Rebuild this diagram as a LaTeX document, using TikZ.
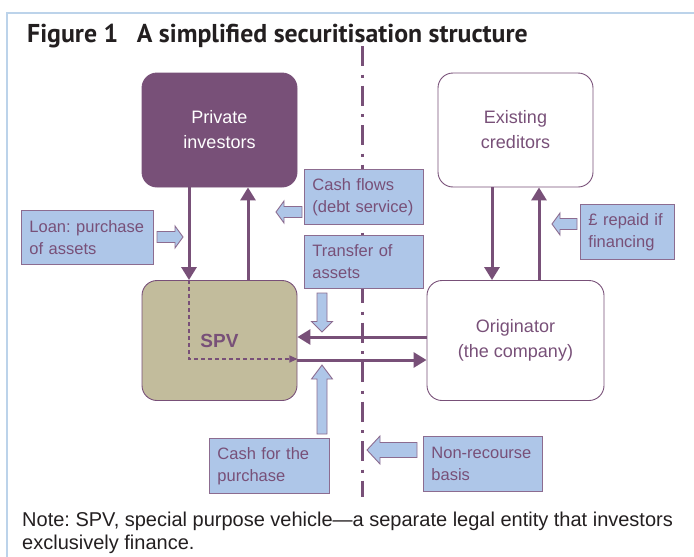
\documentclass[tikz,border=0pt]{standalone}
\usepackage{fontspec}
\setmainfont{Liberation Sans}
\newfontfamily\titlefont{PT Sans}
\usepackage{tikz}
\usetikzlibrary{positioning}
\usetikzlibrary{arrows.meta}

\definecolor{plum}{HTML}{785078}
\definecolor{spvfill}{HTML}{C2BC9C}
\definecolor{tagfill}{HTML}{AEC6E8}
\definecolor{tagline}{HTML}{8C6C90}
\definecolor{framecol}{HTML}{BCD3EA}
\definecolor{inkcol}{HTML}{231F20}
\frenchspacing

\begin{document}
\begin{tikzpicture}[x=1pt, y=-1pt,
    party/.style={draw=plum, line width=0.9pt, rounded corners=15pt, text=plum, align=center, inner sep=0pt, font=\fontsize{18}{25}\selectfont},
    tag/.style={draw=tagline, line width=0.9pt, fill=tagfill, text=plum, align=left, anchor=north west, inner xsep=8pt, inner ysep=0pt, font=\fontsize{16.5}{22}\selectfont},
    flow/.style={draw=plum, line width=3pt, -{Triangle[width=15pt,length=13pt]}},
    dashflow/.style={draw=plum, line width=1.2pt, dash pattern=on 4pt off 3pt, -{Triangle[width=7pt,length=8pt]}},
    fat/.style={draw=tagline, line width=0.9pt, fill=tagfill},
    pics/fatarrow/.style n args={4}{code={
      \path[fat] (0,-#2) -- (#1-#4,-#2) -- (#1-#4,-#3) -- (#1,0) -- (#1-#4,#3) -- (#1-#4,#2) -- (0,#2) -- cycle;
    }}]
  \useasboundingbox (0,0) rectangle (694,557);
  \draw[framecol, line width=1.5pt] (7,557) -- (7,13) -- (694,13);
  \node[anchor=base west, inner sep=0pt, text=inkcol, font=\titlefont\bfseries\fontsize{25.8}{30}\selectfont] (title) at (27,42.5) {Figure 1\hspace{12pt} A simplified securitisation structure};

  \coordinate (divtop) at (362,46);
  \coordinate (divbot) at (362,497);
  \draw[plum, line width=3pt, dash pattern=on 20pt off 8.5pt on 3pt off 8pt] (divtop) -- (divbot);

  \node[party, fill=plum, text=white, minimum width=155pt, minimum height=114pt] (pi) at (219.5,130) {Private\\investors};
  \node[party, minimum width=155pt, minimum height=114pt] (ec) at (515.5,130) {Existing\\creditors};
  \node[party, fill=spvfill, minimum width=155pt, minimum height=120pt, font=\bfseries\fontsize{19}{25}\selectfont] (spv) at (219.5,340.5) {SPV};
  \node[party, minimum width=177pt, minimum height=120pt] (orig) at (515.5,340.5) {Originator\\(the company)};

  \draw[flow] ([xshift=-30.5pt]pi.south) -- ([xshift=-30.5pt]spv.north);
  \draw[flow] ([xshift=28.5pt]spv.north) -- ([xshift=28.5pt]pi.south);
  \draw[dashflow] ([xshift=-30.5pt]spv.north) |- ([yshift=-18.5pt]spv.east);
  \draw[flow] ([yshift=3.5pt]orig.west) -- ([yshift=3.5pt]spv.east);
  \draw[flow] ([yshift=-19.5pt]spv.east) -- ([yshift=-19.5pt]orig.west);
  \draw[flow] ([xshift=-23.5pt]ec.south) -- ([xshift=-23.5pt]orig.north);
  \draw[flow] ([xshift=23.5pt]orig.north) -- ([xshift=23.5pt]ec.south);

  \node[tag, minimum height=54pt, text width=116pt] (loan) at (21,210) {\mbox{Loan: purchase}\\of assets};
  \node[tag, minimum height=55pt, text width=103pt] (cashflow) at (304,169) {Cash flows\\(debt service)};
  \node[tag, minimum height=53pt, text width=103pt] (transfer) at (304,235) {Transfer of\\assets};
  \node[tag, minimum height=55pt, text width=104pt] (cashbuy) at (209,438) {Cash for the\\purchase};
  \node[tag, minimum height=55pt, text width=103pt] (nonrec) at (423,436) {Non-recourse\\basis};
  \node[tag, minimum height=55pt, text width=78pt] (repaid) at (580,204) {£ repaid if\\financing};

  \pic at (157,237) {fatarrow={26}{5.5}{11}{8}};
  \pic[rotate=180] at (302,212) {fatarrow={26}{5.5}{11}{8}};
  \pic[rotate=270] at (322,293) {fatarrow={39}{5}{10.5}{10.5}};
  \pic[rotate=90] at (322,434) {fatarrow={69}{5}{10.5}{14}};
  \pic[rotate=180] at (417,450) {fatarrow={50}{7.5}{14}{13}};
  \pic[rotate=180] at (577,224) {fatarrow={25}{5.5}{11}{8}};

  \node[anchor=north west, inner sep=0pt, align=left, text=inkcol, font=\fontsize{20}{23.5}\selectfont] (note) at (22,511.4) {Note: SPV, special purpose vehicle—a separate legal entity that investors\\exclusively finance.};
\end{tikzpicture}
\end{document}
